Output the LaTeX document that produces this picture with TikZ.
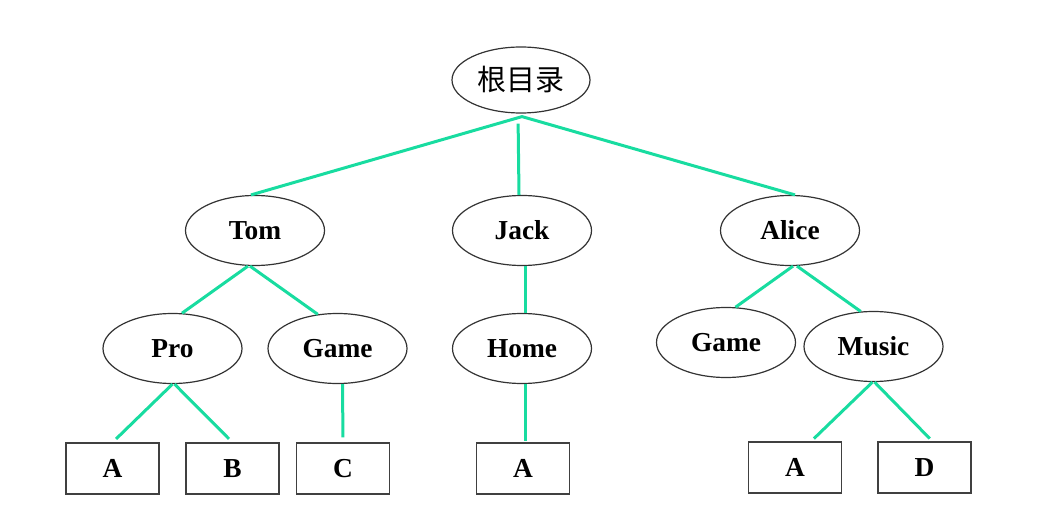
\documentclass[tikz,border=0pt]{standalone}
\usepackage{fontspec}
\setmainfont{Liberation Serif}
\newfontfamily\cjk{Noto Sans CJK SC}
\usetikzlibrary{shapes.geometric,positioning}
\definecolor{linkgreen}{RGB}{24,220,160}
\tikzset{
    dir/.style={ellipse,draw=black!80,line width=.6pt,minimum width=69.5pt,minimum height=35pt,inner sep=0pt,font=\fontsize{13.7}{16}\selectfont\bfseries},
    file/.style={rectangle,draw=black!75,line width=.6pt,minimum width=46.5pt,minimum height=25.5pt,inner sep=0pt,font=\fontsize{13.7}{16}\selectfont\bfseries},
    link/.style={linkgreen,line width=1.5pt},
}
\begin{document}
\begin{tikzpicture}[x=.5pt,y=-.5pt]
    \useasboundingbox (0,0) rectangle (1049,529);

    % directories
    \node[dir,minimum width=69pt,minimum height=33pt,font=\fontsize{14.5}{16}\cjk] (root) at (521,80) {根目录};
    \node[dir] (tom) at (255,230.5) {Tom};
    \node[dir] (jack) at (522,230.5) {Jack};
    \node[dir] (alice) at (790,230.5) {Alice};
    \node[dir] (pro) at (172.5,348.5) {Pro};
    \node[dir] (tgame) at (337.5,348.5) {Game};
    \node[dir] (home) at (522,348.5) {Home};
    \node[dir] (agame) at (726,342.5) {Game};
    \node[dir] (music) at (873.5,346.5) {Music};

    % files
    \node[file] (pa) at (112.5,468.5) {A};
    \node[file] (pb) at (232.5,468.5) {B};
    \node[file] (gc) at (343,468.5) {C};
    \node[file] (ha) at (523,468.5) {A};
    \node[file] (ma) at (795,467.5) {A};
    \node[file] (md) at (924.5,467.5) {D};

    \coordinate (fork) at ([xshift=0.5pt,yshift=-1.5pt]root.south);
    \draw[link] ([xshift=-2pt]tom.north) -- (fork) -- ([xshift=2.5pt]alice.north);
    \draw[link,shorten <=5pt] ([xshift=-1.5pt]root.south) -- ([xshift=-1.5pt]jack.north);

    \draw[link] ([xshift=-3.5pt]tom.south) -- (pro.75);
    \draw[link] ([xshift=-2.5pt]tom.south) -- (tgame.120);
    \draw[link] ([xshift=1.5pt]jack.south) -- ([xshift=1.5pt]home.north);
    \draw[link] ([xshift=1.5pt]alice.south) -- (agame.75);
    \draw[link] ([xshift=3.5pt]alice.south) -- (music.110);

    \draw[link,shorten >=2.5pt] (pro.south) -- (pa.north);
    \draw[link,shorten >=2.5pt] ([xshift=1pt]pro.south) -- (pb.north);
    \draw[link,shorten >=2.5pt] ([xshift=2.5pt]tgame.south) -- (gc.north);
    \draw[link,shorten >=0.5pt] ([xshift=1.5pt]home.south) -- ([xshift=1pt]ha.north);
    \draw[link,shorten >=2pt] ([xshift=-0.5pt]music.south) -- ([xshift=8pt]ma.north);
    \draw[link,shorten >=2pt] ([xshift=0.5pt]music.south) -- ([xshift=4pt]md.north);
\end{tikzpicture}
\end{document}
